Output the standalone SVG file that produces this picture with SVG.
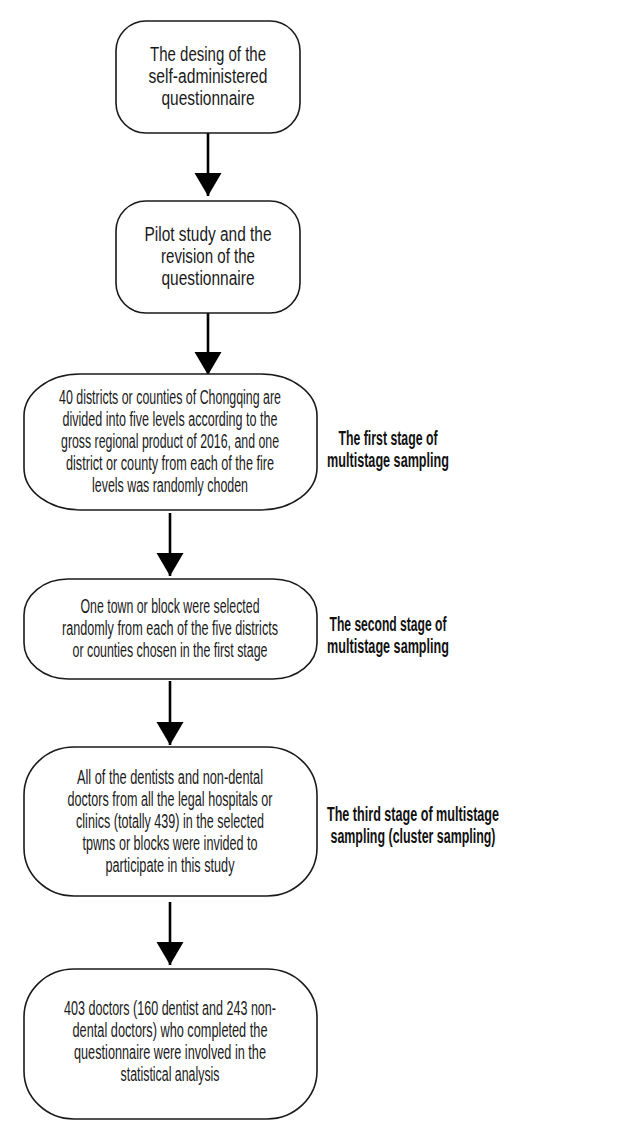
<svg xmlns="http://www.w3.org/2000/svg" width="640" height="1140" viewBox="0 0 640 1140">
<defs>
<style>
.box{fill:#fff;stroke:#1a1a1a;stroke-width:1.6}
.t{font-family:"Liberation Sans",Arial,sans-serif;font-size:21px;fill:#1a1a1a;text-anchor:middle}
.b{font-family:"Liberation Sans",Arial,sans-serif;font-size:21px;font-weight:bold;fill:#111;text-anchor:middle}
.c{stroke:#000;stroke-width:2.6;fill:none;marker-end:url(#ah)}
</style>
<marker id="ah" markerUnits="userSpaceOnUse" markerWidth="24" markerHeight="28" refX="23" refY="13.5" orient="auto">
<path d="M0,0 L23,13.5 L0,27 Z" fill="#000"/>
</marker>
</defs>
<rect width="640" height="1140" fill="#fff"/>
<g id="connectors">
<line class="c" x1="208" y1="133" x2="208" y2="196"/>
<line class="c" x1="208" y1="313" x2="208" y2="375"/>
<line class="c" x1="170" y1="513" x2="170" y2="576"/>
<line class="c" x1="170" y1="681" x2="170" y2="745"/>
<line class="c" x1="170" y1="902" x2="170" y2="965"/>
</g>
<g id="node1">
<rect class="box" x="116" y="21" width="184" height="112" rx="30" ry="30"/>
<g transform="translate(208 0) scale(0.6 1)">
<text class="t" x="0" y="61.5" textLength="193.3" lengthAdjust="spacingAndGlyphs">The desing of the</text>
<text class="t" x="0" y="83.5" textLength="198.3" lengthAdjust="spacingAndGlyphs">self-administered</text>
<text class="t" x="0" y="105.5" textLength="155" lengthAdjust="spacingAndGlyphs">questionnaire</text>
</g>
</g>
<g id="node2">
<rect class="box" x="116" y="201" width="184" height="112" rx="30" ry="30"/>
<g transform="translate(208 0) scale(0.6 1)">
<text class="t" x="0" y="241" textLength="211.7" lengthAdjust="spacingAndGlyphs">Pilot study and the</text>
<text class="t" x="0" y="263" textLength="156.7" lengthAdjust="spacingAndGlyphs">revision of the</text>
<text class="t" x="0" y="285" textLength="155" lengthAdjust="spacingAndGlyphs">questionnaire</text>
</g>
</g>
<g id="node3">
<rect class="box" x="24" y="374" width="293" height="136" rx="56" ry="42"/>
<g transform="translate(170 0) scale(0.6 1)">
<text class="t" x="0" y="404" textLength="370" lengthAdjust="spacingAndGlyphs">40 districts or counties of Chongqing are</text>
<text class="t" x="0" y="426" textLength="358.3" lengthAdjust="spacingAndGlyphs">divided into five levels according to the</text>
<text class="t" x="0" y="448" textLength="363.3" lengthAdjust="spacingAndGlyphs">gross regional product of 2016, and one</text>
<text class="t" x="0" y="470" textLength="346.7" lengthAdjust="spacingAndGlyphs">district or county from each of the fire</text>
<text class="t" x="0" y="492" textLength="260" lengthAdjust="spacingAndGlyphs">levels was randomly choden</text>
</g>
</g>
<g id="label1">
<g transform="translate(388 0) scale(0.6 1)">
<text class="b" x="0" y="445" textLength="165" lengthAdjust="spacingAndGlyphs">The first stage of</text>
<text class="b" x="0" y="467" textLength="203.3" lengthAdjust="spacingAndGlyphs">multistage sampling</text>
</g>
</g>
<g id="node4">
<rect class="box" x="24" y="579" width="293" height="100" rx="44" ry="36"/>
<g transform="translate(170 0) scale(0.6 1)">
<text class="t" x="0" y="613" textLength="298.3" lengthAdjust="spacingAndGlyphs">One town or block were selected</text>
<text class="t" x="0" y="635" textLength="360" lengthAdjust="spacingAndGlyphs">randomly from each of the five districts</text>
<text class="t" x="0" y="657" textLength="325" lengthAdjust="spacingAndGlyphs">or counties chosen in the first stage</text>
</g>
</g>
<g id="label2">
<g transform="translate(388 0) scale(0.6 1)">
<text class="b" x="0" y="631" textLength="195" lengthAdjust="spacingAndGlyphs">The second stage of</text>
<text class="b" x="0" y="653" textLength="203.3" lengthAdjust="spacingAndGlyphs">multistage sampling</text>
</g>
</g>
<g id="node5">
<rect class="box" x="24" y="747" width="293" height="149" rx="50" ry="48"/>
<g transform="translate(170 0) scale(0.6 1)">
<text class="t" x="0" y="784" textLength="310" lengthAdjust="spacingAndGlyphs">All of the dentists and non-dental</text>
<text class="t" x="0" y="806" textLength="341.7" lengthAdjust="spacingAndGlyphs">doctors from all the legal hospitals or</text>
<text class="t" x="0" y="828" textLength="313.3" lengthAdjust="spacingAndGlyphs">clinics (totally 439) in the selected</text>
<text class="t" x="0" y="850" textLength="291.7" lengthAdjust="spacingAndGlyphs">tpwns or blocks were invided to</text>
<text class="t" x="0" y="872" textLength="215" lengthAdjust="spacingAndGlyphs">participate in this study</text>
</g>
</g>
<g id="label3">
<g transform="translate(413 0) scale(0.6 1)">
<text class="b" x="0" y="821" textLength="286.7" lengthAdjust="spacingAndGlyphs">The third stage of multistage</text>
<text class="b" x="0" y="843" textLength="275" lengthAdjust="spacingAndGlyphs">sampling (cluster sampling)</text>
</g>
</g>
<g id="node6">
<rect class="box" x="24" y="969" width="293" height="150" rx="50" ry="48"/>
<g transform="translate(170 0) scale(0.6 1)">
<text class="t" x="0" y="1015" textLength="353.3" lengthAdjust="spacingAndGlyphs">403 doctors (160 dentist and 243 non-</text>
<text class="t" x="0" y="1037" textLength="325" lengthAdjust="spacingAndGlyphs">dental doctors) who completed the</text>
<text class="t" x="0" y="1059" textLength="320" lengthAdjust="spacingAndGlyphs">questionnaire were involved in the</text>
<text class="t" x="0" y="1081" textLength="165" lengthAdjust="spacingAndGlyphs">statistical analysis</text>
</g>
</g>
</svg>
